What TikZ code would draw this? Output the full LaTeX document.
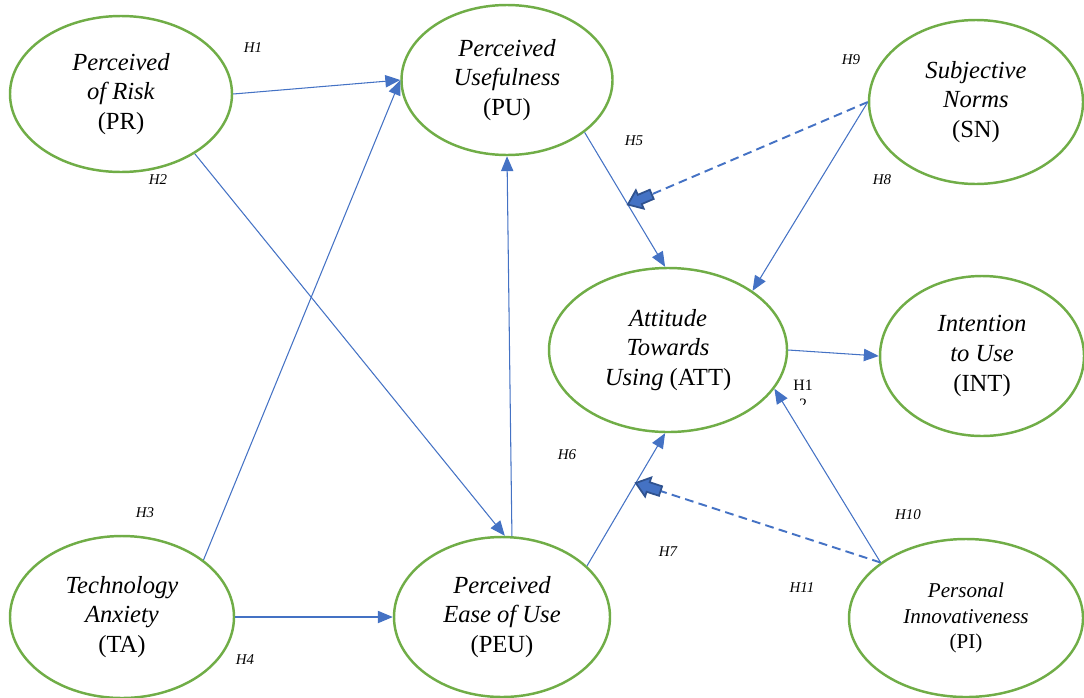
\documentclass[tikz,border=0pt]{standalone}
\usepackage{fontspec}
\setmainfont{Liberation Serif}
\usetikzlibrary{shapes.geometric,arrows.meta,calc}
\definecolor{egreen}{HTML}{70AD47}
\definecolor{ablue}{HTML}{4472C4}
\definecolor{dblue}{HTML}{2F528F}
\begin{document}
\begin{tikzpicture}[x=0.02cm,y=-0.02cm,
  ell/.style 2 args={ellipse, draw=egreen, line width=1.4pt, minimum width=#1*0.02cm, minimum height=#2*0.02cm, inner sep=0pt, align=center, font=\fontsize{14}{17}\selectfont},
  arr/.style={draw=ablue, line width=0.6pt, -{Triangle[length=8.5pt,width=7pt]}},
  dashline/.style={draw=ablue, line width=1.1pt, dash pattern=on 5pt off 3pt},
  blockarr/.style={fill=ablue, draw=dblue, line width=1pt, line join=miter},
  hlab/.style={font=\fontsize{8.5}{10}\selectfont\itshape, inner sep=0pt}]
\useasboundingbox (0,0) rectangle (1084,697);
% ellipses
\node[ell={222}{156}] (pr) at (121,94) {\textit{Perceived}\\\textit{of Risk}\\(PR)};
\node[ell={211}{150}] (pu) at (507,80) {\textit{Perceived}\\\textit{Usefulness}\\(PU)};
\node[ell={214}{164}] (sn) at (976,102) {\textit{Subjective}\\\textit{Norms}\\(SN)};
\node[ell={238}{164}] (att) at (668,350) {\textit{Attitude}\\\textit{Towards}\\\textit{Using} (ATT)};
\node[ell={204}{160}] (int) at (982,356) {\textit{Intention}\\\textit{to Use}\\(INT)};
\node[ell={224}{162}] (ta) at (122,617) {\textit{Technology}\\\textit{Anxiety}\\(TA)};
\node[ell={216}{160}] (peu) at (502,617) {\textit{Perceived}\\\textit{Ease of Use}\\(PEU)};
\node[ell={234}{158}, font=\fontsize{12}{14.7}\selectfont] (pi) at (966,618) {\textit{Personal}\\\textit{Innovativeness}\\(PI)};
% connectors
\draw[arr] (pr.east) -- (pu.west);
\draw[arr] (pr.-39.5) -- (peu.88);
\draw[arr] (ta.35.5) -- (pu.west);
\draw[arr] (ta.east) -- (peu.west);
\draw[arr] (pu.-34.7) -- (att.92);
\draw[arr] (peu.83) -- (pu.south);
\draw[arr] (peu.31.5) -- (att.-92);
\draw[arr] (sn.west) -- (att.35);
\draw[arr] (att.east) -- (int.west);
\draw[arr] (pi.147.4) -- (att.-20.8);
% moderation points
\coordinate (m1) at ($(pu.-34.7)!0.537!(att.92)$);
\coordinate (m2) at ($(peu.31.5)!0.625!(att.-92)$);
\draw[dashline] (sn.west) -- (m1);
\draw[dashline] (pi.147.4) -- (m2);
\path let \p1=($(m1)-(sn.west)$), \n1={atan2(\y1,\x1)} in
  [shift={(m1)}, rotate=\n1]
  [blockarr] (0,0) -- (-0.26cm,0.2cm) -- (-0.26cm,0.1cm) -- (-0.52cm,0.1cm) -- (-0.52cm,-0.1cm) -- (-0.26cm,-0.1cm) -- (-0.26cm,-0.2cm) -- cycle;
\path let \p1=($(m2)-(pi.147.4)$), \n1={atan2(\y1,\x1)} in
  [shift={(m2)}, rotate=\n1]
  [blockarr] (0,0) -- (-0.26cm,0.2cm) -- (-0.26cm,0.1cm) -- (-0.52cm,0.1cm) -- (-0.52cm,-0.1cm) -- (-0.26cm,-0.1cm) -- (-0.26cm,-0.2cm) -- cycle;
% labels
\node[hlab] (h1) at (253,48) {H1};
\node[hlab] (h2) at (158,180) {H2};
\node[hlab] (h3) at (145,513) {H3};
\node[hlab] (h4) at (245,660) {H4};
\node[hlab] (h5) at (634,141) {H5};
\node[hlab] (h6) at (567,455) {H6};
\node[hlab] (h7) at (668,552) {H7};
\node[hlab] (h8) at (882,180) {H8};
\node[hlab] (h9) at (851,60) {H9};
\node[hlab] (h10) at (908,515) {H10};
\node[hlab] (h11) at (802,588) {H11};
\node[font=\fontsize{9}{10}\selectfont, inner sep=0pt] (h12) at (803,385) {H1};
\begin{scope}
\clip (790,394) rectangle (820,404.5);
\node[font=\fontsize{9}{10}\selectfont, inner sep=0pt] (h12b) at (803,404) {2};
\end{scope}
\end{tikzpicture}
\end{document}
